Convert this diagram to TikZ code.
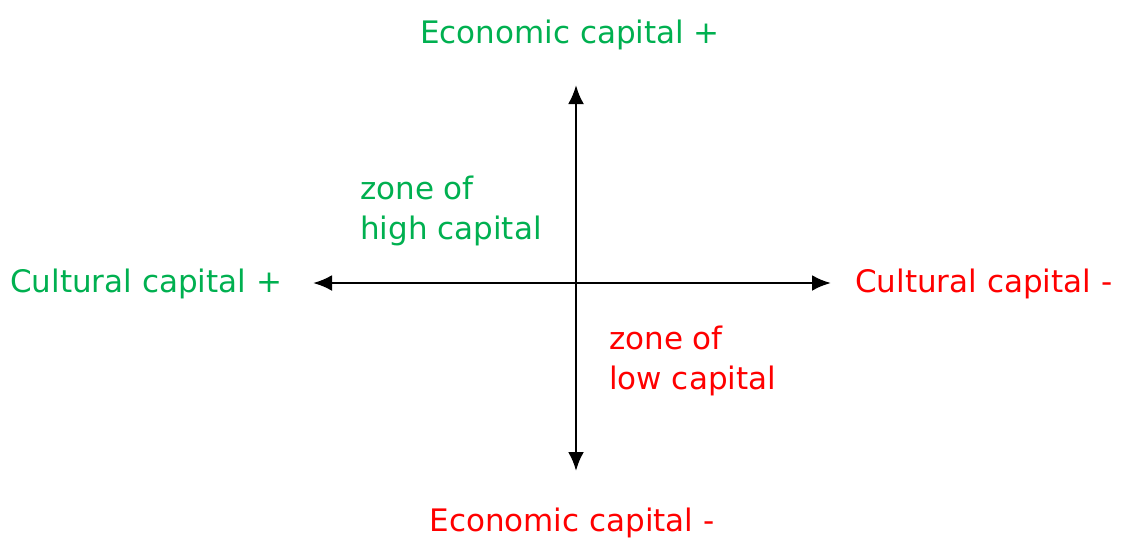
\documentclass[tikz,border=0pt]{standalone}
\usepackage{fontspec}
\setmainfont{DejaVu Sans}
\usetikzlibrary{arrows.meta}
\definecolor{plusgreen}{RGB}{0,176,80}
\definecolor{minusred}{RGB}{255,0,0}

\begin{document}
\begin{tikzpicture}[x=1pt,y=-1pt,
    lbl/.style={font=\fontsize{31}{40}\selectfont,inner sep=0pt},
    axis/.style={line width=2.8pt,{Latex[length=19pt,width=16pt]}-{Latex[length=19pt,width=16pt]}}]
  \useasboundingbox (0,0) rectangle (1125,539);
  \coordinate (top) at (576,85);
  \coordinate (bot) at (576,471);
  \coordinate (lft) at (313,283);
  \coordinate (rgt) at (831,283);
  \draw[axis] (top)--(bot);
  \draw[axis] (lft)--(rgt);
  \node[lbl,plusgreen] (ecoplus) at (570,35) {Economic capital +};
  \node[lbl,minusred] (ecominus) at (572,523) {Economic capital -};
  \node[lbl,plusgreen,anchor=west] (culplus) at (10,284) {Cultural capital +};
  \node[lbl,minusred,anchor=west] (culminus) at (855,284) {Cultural capital -};
  \node[lbl,plusgreen,anchor=west,align=left] (zonehigh) at (360,211) {zone of\\high capital};
  \node[lbl,minusred,anchor=west,align=left] (zonelow) at (609,361) {zone of\\low capital};
\end{tikzpicture}
\end{document}
